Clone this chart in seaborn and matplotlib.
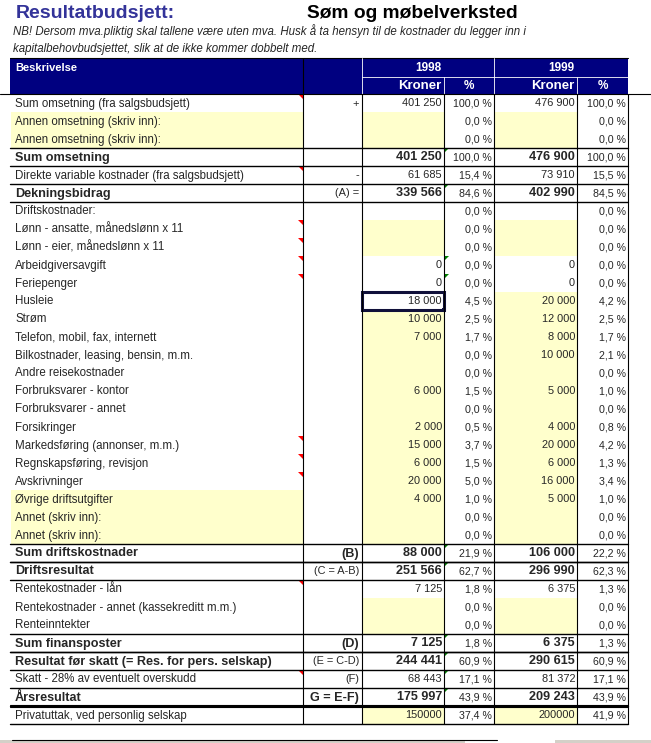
import matplotlib
matplotlib.use('Agg')
import matplotlib.pyplot as plt
import matplotlib.patches as patches
import seaborn as sns
import pandas as pd

# rows of the budget sheet
labels = [
    'Sum omsetning (fra salgsbudsjett)', 'Annen omsetning (skriv inn):', 'Annen omsetning (skriv inn):',
    'Sum omsetning', 'Direkte variable kostnader (fra salgsbudsjett)', 'Dekningsbidrag',
    'Driftskostnader:', 'Lønn - ansatte, månedslønn x 11', 'Lønn - eier, månedslønn x 11',
    'Arbeidgiversavgift', 'Feriepenger', 'Husleie', 'Strøm', 'Telefon, mobil, fax, internett',
    'Bilkostnader, leasing, bensin, m.m.', 'Andre reisekostnader', 'Forbruksvarer - kontor',
    'Forbruksvarer - annet', 'Forsikringer', 'Markedsføring (annonser, m.m.)',
    'Regnskapsføring, revisjon', 'Avskrivninger', 'Øvrige driftsutgifter', 'Annet (skriv inn):',
    'Annet (skriv inn):', 'Sum driftskostnader', 'Driftsresultat', 'Rentekostnader - lån',
    'Rentekostnader - annet (kassekreditt m.m.)', 'Renteinntekter', 'Sum finansposter',
    'Resultat før skatt (= Res. for pers. selskap)', 'Skatt - 28% av eventuelt overskudd',
    'Årsresultat', 'Privatuttak, ved personlig selskap']
symbols = ['+', '', '', '', '-', '(A) =', '', '', '', '', '', '', '', '', '', '', '', '', '', '',
           '', '', '', '', '', '(B)', '(C = A-B)', '', '', '', '(D)', '(E = C-D)', '(F)', 'G = E-F)', '']
kr_1998 = [401250, None, None, 401250, 61685, 339566, None, None, None, 0, 0, 18000, 10000, 7000,
           None, None, 6000, None, 2000, 15000, 6000, 20000, 4000, None, None, 88000, 251566, 7125,
           None, None, 7125, 244441, 68443, 175997, 150000]
pct_1998 = [100.0, 0.0, 0.0, 100.0, 15.4, 84.6, 0.0, 0.0, 0.0, 0.0, 0.0, 4.5, 2.5, 1.7, 0.0, 0.0,
            1.5, 0.0, 0.5, 3.7, 1.5, 5.0, 1.0, 0.0, 0.0, 21.9, 62.7, 1.8, 0.0, 0.0, 1.8, 60.9,
            17.1, 43.9, 37.4]
kr_1999 = [476900, None, None, 476900, 73910, 402990, None, None, None, 0, 0, 20000, 12000, 8000,
           10000, None, 5000, None, 4000, 20000, 6000, 16000, 5000, None, None, 106000, 296990, 6375,
           None, None, 6375, 290615, 81372, 209243, 200000]
pct_1999 = [100.0, 0.0, 0.0, 100.0, 15.5, 84.5, 0.0, 0.0, 0.0, 0.0, 0.0, 4.2, 2.5, 1.7, 2.1, 0.0,
            1.0, 0.0, 0.8, 4.2, 1.3, 3.4, 1.0, 0.0, 0.0, 22.2, 62.3, 1.3, 0.0, 0.0, 1.3, 60.9,
            17.1, 43.9, 41.9]
bold_rows = [3, 5, 25, 26, 30, 31, 33]
bold_symbol_rows = [25, 30, 33]
input_label_rows = [1, 2, 22, 23, 24]
input_kr_rows = [1, 2, 7, 8] + list(range(11, 25)) + [28, 29, 34]
comment_rows = [0, 4, 7, 8, 9, 10, 19, 20, 21, 27, 32]
warning_rows = [3, 5, 9, 10, 25, 26, 30, 31, 32, 33]
raw_number_rows = [34]

df = pd.DataFrame(dict(label=labels, symbol=symbols, kr98=kr_1998, p98=pct_1998,
                       kr99=kr_1999, p99=pct_1999))

sns.set_theme(style='white')
plt.rcParams['font.family'] = ['Liberation Sans', 'DejaVu Sans']

NAVY = '#000080'
YELLOW = '#FFFFCC'
W, H = 651, 743
fig = plt.figure(figsize=(W / 100, H / 100), dpi=100)
ax = fig.add_axes([0, 0, 1, 1])
ax.set_xlim(0, W)
ax.set_ylim(H, 0)
ax.axis('off')

# column edges
x_left, x_sym, x_k98, x_p98, x_k99, x_p99, x_right = 10, 303, 362, 444, 494, 577, 628
top, rh = 94, 18.0
n = len(df)
FS, FS_B = 8.3, 9.1

def fmt_kr(v, raw=False):
    if v is None or pd.isna(v):
        return ''
    v = int(v)
    if raw:
        return str(v)
    return f'{v:,}'.replace(',', ' ')

def fmt_pct(v):
    return f'{v:.1f} %'.replace('.', ',')

# title + note
ax.text(16, 14, 'Resultatbudsjett:', fontsize=14, fontweight='bold', color='#333399', va='center')
ax.text(307, 14, 'Søm og møbelverksted', fontsize=13.8, fontweight='bold', color='black', va='center')
ax.text(13, 31, 'NB! Dersom mva.pliktig skal tallene være uten mva. Husk å ta hensyn til de kostnader du legger inn i',
        fontsize=8.3, style='italic', va='center')
ax.text(13, 49, 'kapitalbehovbudsjettet, slik at de ikke kommer dobbelt med.',
        fontsize=8.3, style='italic', va='center')

# header band
ax.add_patch(patches.Rectangle((x_left, 58), x_right - x_left, top - 58, color=NAVY, lw=0))
ax.plot([x_left, x_right], [58, 58], color='black', lw=0.8)
ax.plot([x_sym, x_sym], [58, top], color='black', lw=0.8)
for xx in [x_k98, x_k99]:
    ax.plot([xx, xx], [58, top], color='white', lw=0.6)
for xx in [x_p98, x_p99]:
    ax.plot([xx, xx], [77, top], color='white', lw=0.6)
ax.plot([x_k98, x_right], [77, 77], color='white', lw=0.6)
ax.text(15, 68, 'Beskrivelse', color='white', fontsize=8, fontweight='bold', va='center')
for x0, x1, yr in [(x_k98, x_k99, '1998'), (x_k99, x_right, '1999')]:
    ax.text((x0 + x1) / 2, 68, yr, color='white', fontsize=8.5, fontweight='bold', va='center', ha='center')
for xk, xp, xe in [(x_k98, x_p98, x_k99), (x_k99, x_p99, x_right)]:
    ax.text(xp - 3, 86, 'Kroner', color='white', fontsize=9.5, fontweight='bold', va='center', ha='right')
    ax.text((xp + xe) / 2, 86, '%', color='white', fontsize=8.5, fontweight='bold', va='center', ha='center')
ax.plot([0, W], [top, top], color='black', lw=0.8)

# input (yellow) cells
for i in range(n):
    y0 = top + i * rh
    if i in input_label_rows:
        ax.add_patch(patches.Rectangle((x_left + 1, y0), x_sym - x_left - 1, rh, color=YELLOW, lw=0))
    if i in input_kr_rows:
        if i != 11:
            ax.add_patch(patches.Rectangle((x_k98, y0), x_p98 - x_k98, rh, color=YELLOW, lw=0))
        ax.add_patch(patches.Rectangle((x_k99, y0), x_p99 - x_k99, rh, color=YELLOW, lw=0))

bottom = top + n * rh
for xx in [x_sym, x_k98, x_p98, x_k99, x_p99, x_right]:
    ax.plot([xx, xx], [top, bottom], color='black', lw=0.8)

# row borders around the sum rows
for i in bold_rows:
    for yy in [top + i * rh, top + (i + 1) * rh]:
        ax.plot([x_left, x_right], [yy, yy], color='black', lw=1.0)
yy = top + 34 * rh
ax.plot([x_left, x_right], [yy - 1.5, yy - 1.5], color='black', lw=0.8)
ax.plot([x_left, x_right], [yy + 0.5, yy + 0.5], color='black', lw=0.8)
ax.plot([x_left, x_right], [bottom, bottom], color='black', lw=1.0)

# text in cells
for i, r in df.iterrows():
    yc = top + i * rh + rh / 2 + 0.5
    is_b = i in bold_rows
    b = 'bold' if is_b else 'normal'
    fs = FS_B if is_b else FS
    ax.text(15, yc, r['label'], fontsize=fs, fontweight=b, va='center')
    if r['symbol']:
        sb = i in bold_symbol_rows
        ax.text(x_k98 - 3, yc, r['symbol'], fontsize=FS_B if sb else 7.9, va='center', ha='right',
                fontweight='bold' if sb else 'normal')
    raw = i in raw_number_rows
    fk = FS_B if is_b else 7.9
    ax.text(x_p98 - 2, yc, fmt_kr(r['kr98'], raw), fontsize=fk, fontweight=b, va='center', ha='right')
    ax.text(x_k99 - 2, yc, fmt_pct(r['p98']), fontsize=7.7, va='center', ha='right')
    ax.text(x_p99 - 2, yc, fmt_kr(r['kr99'], raw), fontsize=fk, fontweight=b, va='center', ha='right')
    ax.text(x_right - 2, yc, fmt_pct(r['p99']), fontsize=7.7, va='center', ha='right')

# comment / warning markers
for i in comment_rows:
    y0 = top + i * rh
    ax.add_patch(patches.Polygon([(x_sym - 5, y0), (x_sym, y0), (x_sym, y0 + 5)], color='red', lw=0))
for i in warning_rows:
    y0 = top + i * rh
    ax.add_patch(patches.Polygon([(x_p98, y0), (x_p98 + 5, y0), (x_p98, y0 + 5)], color='green', lw=0))

# selected cell (Husleie 1998)
ys = top + 11 * rh
ax.add_patch(patches.Rectangle((x_k98, ys), x_p98 - x_k98, rh, fill=False, ec='#10103A', lw=2.2))
ax.add_patch(patches.Rectangle((x_p98 - 2, ys + rh - 2), 4, 4, color='#10103A', lw=0))

# sheet tab strip at the bottom
ax.add_patch(patches.Rectangle((0, 740), 465, 4, color='#D4D0C8', lw=0))
ax.plot([12, 497], [740, 740], color='black', lw=0.8)
ax.add_patch(patches.Rectangle((555, 740), 96, 4, color='#D4D0C8', lw=0))

plt.savefig('out.png', dpi=100)
